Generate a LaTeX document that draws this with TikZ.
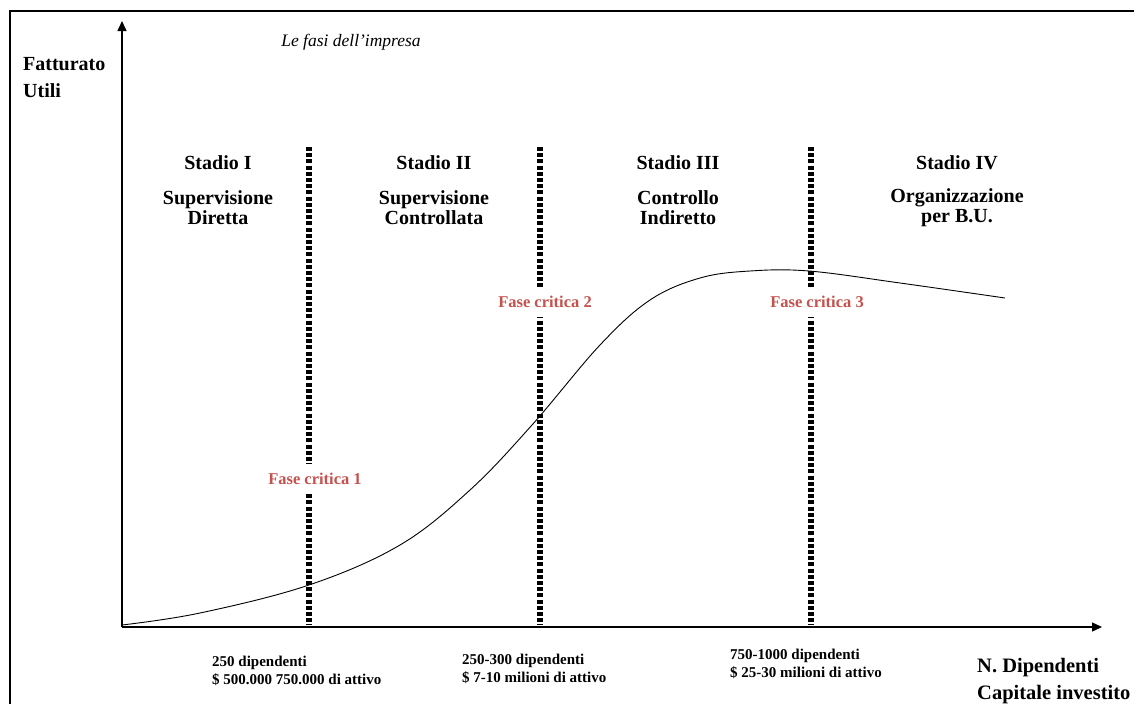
\documentclass[tikz,border=0pt]{standalone}
\usepackage{fontspec}
\setmainfont{Liberation Serif}
\usetikzlibrary{arrows.meta}
\definecolor{critred}{RGB}{196,82,78}
\tikzset{
  axis/.style={line width=1.3pt,-{Triangle[length=10pt,width=9pt]}},
  divider/.style={line width=5.5pt,dash pattern=on 4pt off 2.2pt},
  stage/.style={font=\bfseries\fontsize{20}{20}\selectfont,align=center,inner sep=0pt},
  critical/.style={font=\bfseries\fontsize{16.5}{18}\selectfont,text=critred,fill=white,inner xsep=2pt,inner ysep=9pt},
  threshold/.style={font=\bfseries\fontsize{15}{18}\selectfont,align=left,anchor=west,inner sep=0pt}
}
\begin{document}
\begin{tikzpicture}[x=1pt,y=-1pt]
\useasboundingbox (0,0) rectangle (1134,704);
% cornice
\draw[line width=1.5pt] (10,704)--(10,11)--(1134,11);
% assi
\coordinate (O) at (122,627);
\coordinate (ytop) at (122,21);
\coordinate (xend) at (1102,627);
\draw[axis] (O)--(ytop);
\draw[axis] (O)--(xend);
\node[font=\bfseries\fontsize{20}{27}\selectfont,align=left,anchor=west,inner sep=0pt] (ylab) at (23,78) {Fatturato\\Utili};
\node[font=\bfseries\fontsize{20.5}{27}\selectfont,align=left,anchor=west,inner sep=0pt] (xlab) at (977,681) {N. Dipendenti\\Capitale investito};
\node[font=\itshape\fontsize{17.5}{20}\selectfont] (title) at (351,42) {Le fasi dell’impresa};
% curva
\draw[line width=0.9pt] plot[smooth,tension=0.6] coordinates {(122,625) (200,613) (309,585) (400,545) (470,490) (532,425) (600,345) (650,300) (700,278) (750,271) (809,271) (900,283) (1005,298)};
% linee di separazione
\foreach \name/\x in {d1/309,d2/540,d3/811} {
  \coordinate (\name top) at (\x,147);
  \coordinate (\name bot) at (\x,625);
  \draw[divider] (\name top)--(\name bot);
}
\node[critical] (crit1) at (315,479) {Fase critica 1};
\node[critical] (crit2) at (545,302) {Fase critica 2};
\node[critical] (crit3) at (817,302) {Fase critica 3};
% stadi
\foreach \name/\x/\num/\desc in {s1/218/I/{Supervisione\\Diretta},s2/434/II/{Supervisione\\Controllata},s3/678/III/{Controllo\\Indiretto},s4/957/IV/{Organizzazione\\per B.U.}} {
  \node[stage] (\name) at (\x,163) {Stadio \num};
  \node[stage] (\name desc) at (\x,208) {\desc};
}
% soglie
\node[threshold] (th1) at (212,671) {250 dipendenti\\\$ 500.000 750.000 di attivo};
\node[threshold] (th2) at (462,669) {250-300 dipendenti\\\$ 7-10 milioni di attivo};
\node[threshold] (th3) at (730,664) {750-1000 dipendenti\\\$ 25-30 milioni di attivo};
\end{tikzpicture}
\end{document}
